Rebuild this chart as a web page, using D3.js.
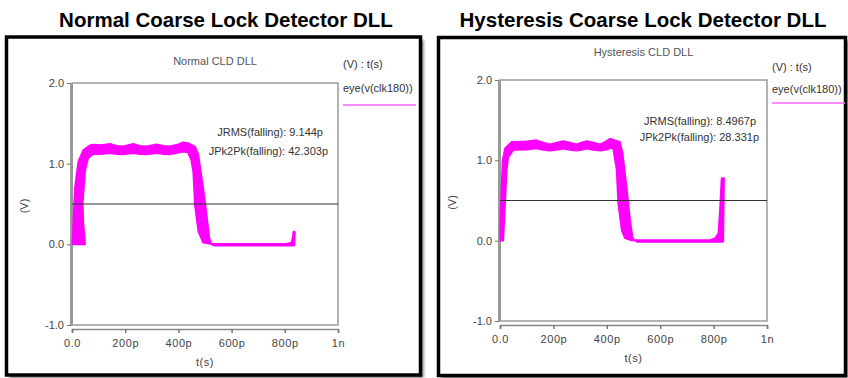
<!DOCTYPE html>
<html>
<head>
<meta charset="utf-8">
<script src="https://cdn.jsdelivr.net/npm/d3@7"></script>
<style>
  body { margin: 0; background: #fff; }
  svg { display: block; font-family: "Liberation Sans", Arial, sans-serif; }
</style>
</head>
<body>
<script>
// ---- data (t in ps, V in volts) ----
const xTicks = [0, 200, 400, 600, 800, 1000];
const yTicks = [-1, 0, 1, 2];
const refLevel = 0.5;

// outer edge of the eye band (rise left side, top, fall right side, low bottom, spike)
const normalOuter = [[2,0],[5,0.29],[11,0.7],[24,1.03],[43,1.17],[68,1.23],[80,1.235],[110,1.23],[143,1.245],[170,1.22],[193,1.215],[230,1.245],[255,1.22],[281,1.215],[318,1.24],[345,1.22],[368,1.215],[400,1.24],[418,1.265],[440,1.25],[463,1.21],[475,1.11],[493,0.70],[506,0.37],[516,0.08],[525,0],[535,-0.015],[828,-0.015],[836,-0.012],[838,0.15],[834,0.16]];
// inner edge of the eye band
const normalInner = [[49,0],[42,0.29],[40,0.5],[49,0.91],[61,1.07],[80,1.12],[110,1.12],[143,1.13],[170,1.12],[193,1.115],[230,1.13],[255,1.12],[281,1.115],[318,1.13],[345,1.12],[368,1.115],[418,1.15],[436,1.14],[448,1.05],[456,0.9],[462,0.49],[475,0.16],[493,0.02],[520,0.005],[805,0.005],[825,0.02],[831,0.1],[832,0.15]];

const hystOuter = [[2,0],[2,0.26],[6,0.67],[10,1.0],[19,1.15],[44,1.23],[62,1.23],[100,1.235],[137,1.25],[162,1.22],[187,1.2],[212,1.22],[237,1.24],[262,1.22],[287,1.2],[305,1.22],[325,1.24],[350,1.22],[375,1.2],[395,1.23],[412,1.27],[430,1.25],[449,1.23],[459,1.09],[474,0.67],[487,0.26],[497,0.03],[506,0],[515,-0.015],[830,-0.015],[836,-0.012],[839,0.775],[835,0.78]];
const hystInner = [[12,0],[19,0.46],[25,0.88],[31,1.04],[50,1.13],[62,1.13],[100,1.135],[137,1.15],[162,1.13],[187,1.12],[212,1.13],[237,1.145],[262,1.13],[287,1.12],[305,1.13],[325,1.145],[350,1.13],[375,1.12],[395,1.13],[412,1.15],[424,1.15],[437,0.88],[443,0.46],[456,0.13],[468,0.03],[490,0.005],[787,0.006],[805,0.03],[818,0.09],[824,0.38],[830,0.775]];

const panels = [
  { heading: "Normal Coarse Lock Detector DLL", title: "Normal CLD DLL",
    jrms: "JRMS(falling): 9.144p", jpk: "JPk2Pk(falling): 42.303p",
    outer: normalOuter, inner: normalInner,
    box: [6.5, 37, 414, 338], plot: [72, 83, 338, 325],
    headX: 226, titleY: 65, legX: 343, legY: [68, 92, 105], annX: [323, 328], annY: [136, 155],
    vLabX: 24, tLabY: 366 },
  { heading: "Hysteresis Coarse Lock Detector DLL", title: "Hysteresis CLD DLL",
    jrms: "JRMS(falling): 8.4967p", jpk: "JPk2Pk(falling): 28.331p",
    outer: hystOuter, inner: hystInner,
    box: [438.5, 37.5, 407, 338], plot: [500, 80, 767, 321],
    headX: 643, titleY: 56, legX: 772, legY: [71, 93, 103], annX: [756, 759], annY: [125, 141],
    vLabX: 452, tLabY: 362 }
];

const width = 848, height = 378;
const svg = d3.select("body").append("svg")
    .attr("width", width).attr("height", height);

const defs = svg.append("defs");
defs.append("filter").attr("id", "shadow")
    .attr("x", "-5%").attr("y", "-5%").attr("width", "110%").attr("height", "110%")
  .append("feGaussianBlur").attr("stdDeviation", 1.5);

const fmtX = d => d === 0 ? "0.0" : d === 1000 ? "1n" : d + "p";
const fmtY = d => d.toFixed(1);

panels.forEach(p => {
  const [bx, by, bw, bh] = p.box;
  const [x0, y0, x1, y1] = p.plot;

  // headline above the box
  svg.append("text")
      .attr("x", p.headX).attr("y", 27)
      .attr("text-anchor", "middle")
      .style("font-size", "20.5px").style("font-weight", "bold").style("fill", "#000")
      .text(p.heading);

  // shadow + framed box
  svg.append("rect")
      .attr("x", bx + 3).attr("y", by + 3).attr("width", bw).attr("height", bh)
      .attr("fill", "#777").attr("filter", "url(#shadow)");
  svg.append("rect")
      .attr("x", bx).attr("y", by).attr("width", bw).attr("height", bh)
      .attr("fill", "#fff").attr("stroke", "#000").attr("stroke-width", 3.5);

  const x = d3.scaleLinear().domain([0, 1000]).range([x0, x1]);
  const y = d3.scaleLinear().domain([-1, 2]).range([y1, y0]);

  // plot frame
  svg.append("rect")
      .attr("x", x0).attr("y", y0).attr("width", x1 - x0).attr("height", y1 - y0)
      .attr("fill", "none").attr("stroke", "#9a9a9a").attr("stroke-width", 1.5);

  // y axis
  const gy = svg.append("g")
      .attr("transform", `translate(${x0 - 1},0)`)
      .call(d3.axisLeft(y).tickValues(yTicks).tickFormat(fmtY)
        .tickSize(4).tickSizeOuter(0).tickPadding(3));
  gy.select(".domain").attr("stroke", "#999").attr("stroke-width", 3);
  gy.selectAll(".tick line").attr("stroke", "#777");
  gy.selectAll("text").style("font-size", "11px").style("fill", "#444")
      .style("font-family", "Liberation Sans, Arial, sans-serif");

  // x axis
  const gx = svg.append("g")
      .attr("transform", `translate(0,${y1 + 4})`)
      .call(d3.axisBottom(x).tickValues(xTicks).tickFormat(fmtX)
        .tickSize(4).tickSizeOuter(4).tickPadding(6));
  gx.select(".domain").attr("stroke", "#888").attr("stroke-width", 1.5);
  gx.selectAll(".tick line").attr("stroke", "#777").attr("stroke-width", 1.5);
  gx.selectAll("text").style("font-size", "11px").style("fill", "#444")
      .style("letter-spacing", "0.6px")
      .style("font-family", "Liberation Sans, Arial, sans-serif");

  // axis titles
  svg.append("text")
      .attr("transform", `translate(${p.vLabX},${(y0 + y1) / 2 + 2}) rotate(-90)`)
      .attr("text-anchor", "middle").attr("dy", "0.35em")
      .style("font-size", "11px").style("fill", "#444").text("(V)");
  svg.append("text")
      .attr("x", (x0 + x1) / 2).attr("y", p.tLabY)
      .attr("text-anchor", "middle")
      .style("font-size", "11px").style("fill", "#444").style("letter-spacing", "0.5px").text("t(s)");

  // chart title
  svg.append("text")
      .attr("x", (x0 + x1) / 2 + 10).attr("y", p.titleY)
      .attr("text-anchor", "middle")
      .style("font-size", "11px").style("fill", "#555").text(p.title);

  // legend
  svg.append("text").attr("x", p.legX).attr("y", p.legY[0])
      .style("font-size", "11px").style("fill", "#333").text("(V) : t(s)");
  svg.append("text").attr("x", p.legX).attr("y", p.legY[1])
      .style("font-size", "11px").style("fill", "#333").text("eye(v(clk180))");
  svg.append("line")
      .attr("x1", p.legX).attr("x2", p.legX + 73)
      .attr("y1", p.legY[2]).attr("y2", p.legY[2])
      .attr("stroke", "#ff66ff").attr("stroke-width", 1.5);

  // eye band
  const pts = p.outer.concat(p.inner.slice().reverse());
  const line = d3.line().x(d => x(d[0])).y(d => y(d[1])).curve(d3.curveLinearClosed);
  svg.append("path")
      .attr("d", line(pts))
      .attr("fill", "#ff00ff").attr("stroke", "#ff00ff")
      .attr("stroke-width", 1.8).attr("stroke-linejoin", "round");

  // reference level line
  svg.append("line")
      .attr("x1", x0).attr("x2", x1)
      .attr("y1", y(refLevel)).attr("y2", y(refLevel))
      .attr("stroke", "#333").attr("stroke-width", 1);

  // jitter annotations
  svg.append("text").attr("x", p.annX[0]).attr("y", p.annY[0])
      .attr("text-anchor", "end")
      .style("font-size", "11px").style("fill", "#333").text(p.jrms);
  svg.append("text").attr("x", p.annX[1]).attr("y", p.annY[1])
      .attr("text-anchor", "end")
      .style("font-size", "11px").style("fill", "#333").text(p.jpk);
});
</script>
</body>
</html>
